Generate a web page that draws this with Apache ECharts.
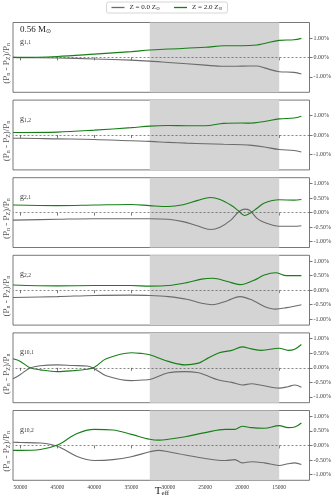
<!DOCTYPE html>
<html>
<head>
<meta charset="utf-8">
<script src="https://cdn.jsdelivr.net/npm/echarts@6/dist/echarts.min.js"></script>
<style>html,body{margin:0;padding:0;background:#fff}#c{width:334px;height:501px}</style>
</head>
<body>
<div id="c"></div>
<script>
// ---- data ----
const panelLabels = ['1,1', '1,2', '2,1', '2,2', '10,1', '10,2'];
const teff1 = [51000, 50000, 45000, 40000, 35000, 32500, 30000, 25000, 22500, 20000, 18000, 17000, 15000, 13000, 12000];
const z2_1 = [0.0, 0.0, 0.05, 0.17, 0.3, 0.38, 0.43, 0.52, 0.6, 0.6, 0.64, 0.72, 0.88, 0.91, 0.98];
const z0_1 = [0.0, -0.01, -0.03, -0.08, -0.14, -0.19, -0.26, -0.4, -0.46, -0.45, -0.44, -0.54, -0.74, -0.77, -0.86];

const teff2 = [51000, 50000, 45000, 40000, 35000, 32500, 30000, 27500, 25000, 22500, 20000, 19000, 17000, 15000, 13000, 12000];
const z2_2 = [0.13, 0.13, 0.15, 0.25, 0.38, 0.46, 0.49, 0.48, 0.48, 0.6, 0.62, 0.61, 0.7, 0.83, 0.88, 0.97];
const z0_2 = [-0.17, -0.17, -0.2, -0.23, -0.3, -0.33, -0.38, -0.42, -0.45, -0.48, -0.5, -0.52, -0.62, -0.75, -0.8, -0.88];

const teff3 = [51000, 45000, 40000, 35000, 32500, 30000, 28000, 26000, 24300, 23000, 21500, 20500, 19700, 19000, 18000, 17000, 15000, 13000, 12000];
const z2_3 = [0.26, 0.24, 0.26, 0.28, 0.24, 0.21, 0.27, 0.42, 0.52, 0.45, 0.25, 0.06, -0.1, -0.03, 0.15, 0.33, 0.44, 0.43, 0.45];
const z0_3 = [-0.26, -0.23, -0.21, -0.21, -0.21, -0.23, -0.31, -0.46, -0.58, -0.5, -0.25, 0.02, 0.12, 0.08, -0.2, -0.34, -0.47, -0.47, -0.45];

const teff4 = [51000, 45000, 40000, 35000, 32500, 30000, 27500, 25500, 24000, 22000, 20300, 18500, 17000, 15500, 14000, 12000];
const z2_4 = [0.18, 0.15, 0.16, 0.16, 0.14, 0.16, 0.26, 0.38, 0.41, 0.3, 0.19, 0.33, 0.52, 0.6, 0.5, 0.5];
const z0_4 = [-0.25, -0.22, -0.18, -0.17, -0.18, -0.22, -0.31, -0.45, -0.5, -0.36, -0.22, -0.36, -0.56, -0.65, -0.6, -0.5];

const teff5 = [51000, 50000, 48700, 47300, 45000, 42900, 41000, 40000, 38400, 35000, 33500, 32500, 30000, 27700, 25900, 25000, 23200, 21400, 20000, 18750, 17400, 15000, 13800, 12900, 12000];
const z2_5 = [0.31, 0.22, 0.0, -0.07, -0.13, -0.1, -0.05, 0.02, 0.31, 0.52, 0.49, 0.45, 0.22, 0.1, 0.16, 0.28, 0.51, 0.6, 0.72, 0.65, 0.6, 0.67, 0.6, 0.64, 0.8];
const z0_5 = [-0.38, -0.23, -0.01, 0.07, 0.1, 0.08, 0.06, -0.03, -0.27, -0.44, -0.42, -0.4, -0.17, -0.13, -0.17, -0.25, -0.42, -0.5, -0.59, -0.55, -0.6, -0.7, -0.65, -0.59, -0.67];

const teff6 = [51000, 50000, 47300, 45000, 42400, 40000, 37500, 35000, 32500, 31250, 30000, 27700, 25000, 22300, 21000, 20000, 18750, 17000, 15000, 13800, 12900, 12000];
const z2_6 = [-0.17, -0.17, -0.14, 0.01, 0.4, 0.55, 0.53, 0.38, 0.21, 0.18, 0.21, 0.3, 0.44, 0.55, 0.55, 0.66, 0.61, 0.59, 0.68, 0.61, 0.63, 0.77];
const z0_6 = [0.11, 0.1, 0.08, -0.03, -0.37, -0.52, -0.49, -0.39, -0.22, -0.17, -0.22, -0.33, -0.45, -0.52, -0.49, -0.6, -0.56, -0.6, -0.69, -0.63, -0.6, -0.66];

const xTicks = [15000, 20000, 25000, 30000, 35000, 40000, 45000, 50000];
const yTicksWide = [-1, 0, 1];
const yTicksNarrow = [-1, -0.5, 0, 0.5, 1];
const observedRange = [32500, 15000];

const panels = [
  {t: teff1, z0: z0_1, z2: z2_1, lim: 1.8, ticks: yTicksWide},
  {t: teff2, z0: z0_2, z2: z2_2, lim: 1.8, ticks: yTicksWide},
  {t: teff3, z0: z0_3, z2: z2_3, lim: 1.2, ticks: yTicksNarrow},
  {t: teff4, z0: z0_4, z2: z2_4, lim: 1.2, ticks: yTicksNarrow},
  {t: teff5, z0: z0_5, z2: z2_5, lim: 1.2, ticks: yTicksNarrow},
  {t: teff6, z0: z0_6, z2: z2_6, lim: 1.2, ticks: yTicksNarrow}
];

// ---- chart ----
const FONT = 'Liberation Serif';
const GRAY = '#6b6b6b';
const GREEN = '#167f16';
const TXT = '#3a3a3a';
const top0 = 22.5, step = 77.6, h = 69.8;
const grids = [], xAxes = [], yAxes = [], series = [], graphics = [];
panels.forEach((p, i) => {
  const last = i === panels.length - 1;
  grids.push({left: 13, right: 22, top: top0 + i * step, height: h, show: true,
    borderColor: '#555', borderWidth: 0.8, backgroundColor: 'transparent'});
  xAxes.push({type: 'value', gridIndex: i, min: 10900, max: 51000, inverse: true,
    axisLine: {show: false}, splitLine: {show: false},
    axisTick: {show: true, inside: false, length: 3, customValues: xTicks, lineStyle: {color: '#555', width: 0.8}},
    axisLabel: {show: last, customValues: xTicks, fontFamily: FONT, fontSize: 5.5, color: TXT, margin: 4,
      formatter: v => String(Math.round(v))}
  });
  yAxes.push({type: 'value', gridIndex: i, position: 'right', min: -p.lim, max: p.lim,
    axisLine: {show: false}, splitLine: {show: false},
    axisTick: {show: true, inside: false, length: 3, customValues: p.ticks, lineStyle: {color: '#555', width: 0.8}},
    axisLabel: {show: true, customValues: p.ticks, fontFamily: FONT, fontSize: 6, color: TXT, margin: 4,
      formatter: v => v.toFixed(2) + '%'}
  });
  series.push({type: 'line', name: 'Z = 0.0', xAxisIndex: i, yAxisIndex: i, symbol: 'none', smooth: 0.35,
    color: GRAY, lineStyle: {color: GRAY, width: 1.1},
    data: p.t.map((t, k) => [t, p.z0[k]]),
    markArea: {silent: true, itemStyle: {color: '#d4d4d4'}, data: [[{xAxis: observedRange[0]}, {xAxis: observedRange[1]}]]},
    markLine: {silent: true, symbol: 'none', label: {show: false},
      lineStyle: {type: [2, 2], color: '#555', width: 0.7}, data: [{yAxis: 0}]}
  });
  series.push({type: 'line', name: 'Z = 2.0', xAxisIndex: i, yAxisIndex: i, symbol: 'none', smooth: 0.35,
    color: GREEN, lineStyle: {color: GREEN, width: 1.1},
    data: p.t.map((t, k) => [t, p.z2[k]])
  });
  const gTop = top0 + i * step;
  graphics.push({type: 'text', x: 6.5, y: gTop + h / 2 + 6, rotation: Math.PI / 2,
    style: {text: '(P{s|n} - P{s|Z})/P{s|n}', fontFamily: FONT, fontSize: 9, fill: '#555',
      align: 'center', verticalAlign: 'middle',
      rich: {s: {fontFamily: FONT, fontSize: 6, fill: '#555', verticalAlign: 'bottom'}}}});
  graphics.push({type: 'text', x: 20, y: gTop + 19,
    style: {text: 'g{s|' + panelLabels[i] + '}', fontFamily: FONT, fontSize: 8, fill: TXT,
      align: 'left', verticalAlign: 'middle',
      rich: {s: {fontFamily: FONT, fontSize: 5.5, fill: TXT, verticalAlign: 'bottom'}}}});
});
graphics.push({type: 'text', x: 20, y: 30,
  style: {text: '0.56 M{s|⊙}', fontFamily: FONT, fontSize: 9, fill: '#222', align: 'left', verticalAlign: 'middle',
    rich: {s: {fontFamily: 'DejaVu Sans', fontSize: 6, fill: '#222', verticalAlign: 'bottom'}}}});
graphics.push({type: 'text', x: 193, y: 39,
  style: {text: 'Observed DBV T{s|eff} Range', fontFamily: FONT, fontSize: 6.3, fill: '#222', align: 'center', verticalAlign: 'middle',
    rich: {s: {fontFamily: FONT, fontSize: 4.5, fill: '#222', verticalAlign: 'bottom'}}}});
graphics.push({type: 'text', x: 162, y: 491,
  style: {text: 'T{s|eff}', fontFamily: FONT, fontSize: 11, fill: '#222', align: 'center', verticalAlign: 'middle',
    rich: {s: {fontFamily: FONT, fontSize: 7, fill: '#222', verticalAlign: 'bottom'}}}});

const chart = echarts.init(document.getElementById('c'), null, {renderer: 'canvas'});
chart.setOption({
  animation: false,
  backgroundColor: '#fff',
  legend: {top: 2, left: 'center', data: ['Z = 0.0', 'Z = 2.0'], icon: 'rect', itemWidth: 13, itemHeight: 1.3, itemGap: 14,
    borderColor: '#ccc', borderWidth: 0.8, borderRadius: 2, padding: [2, 5],
    textStyle: {fontFamily: FONT, fontSize: 7, color: '#222',
      rich: {s: {fontFamily: 'DejaVu Sans', fontSize: 4.8, verticalAlign: 'bottom'}}},
    formatter: n => n + ' Z{s|⊙}'},
  grid: grids, xAxis: xAxes, yAxis: yAxes, series: series, graphic: graphics
});
</script>
</body>
</html>
